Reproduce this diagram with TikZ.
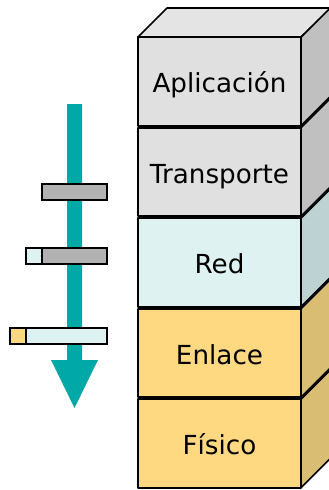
\documentclass[tikz,border=0pt]{standalone}
\usepackage{fontspec}
\setmainfont{DejaVu Sans}
\newcommand\layertext[1]{\scalebox{2.62}{#1}}
\definecolor{grayfront}{HTML}{E0E0E0}
\definecolor{graytop}{HTML}{E4E4E4}
\definecolor{grayside}{HTML}{C0C0C0}
\definecolor{redfront}{HTML}{DFF2F2}
\definecolor{redside}{HTML}{BDD3D3}
\definecolor{linkfront}{HTML}{FFD982}
\definecolor{linkside}{HTML}{D9BD73}
\definecolor{teal}{HTML}{00A8A8}
\definecolor{bargray}{HTML}{B2B2B2}
\begin{document}
\begin{tikzpicture}[x=1pt,y=-1pt,
  front/.style={draw=black,line width=1.6pt,line join=round,minimum width=163pt,minimum height=88.5pt,inner sep=0pt,outer sep=0pt,text height=24pt,text depth=2pt},
  face/.style={draw=black,line width=1.6pt,line join=round},
  barbox/.style={draw=black,line width=1.4pt,inner sep=0pt,outer sep=0pt,minimum height=16pt}]
\useasboundingbox (0,0) rectangle (329,490);
\clip (0,0) rectangle (329,490);
% arrow
\fill[teal] (67,104) -- (82,104) -- (82,360) -- (98,360) -- (74.5,408) -- (51,360) -- (67,360) -- cycle;
% bars
\node[barbox,fill=bargray,minimum width=65pt] (b1) at (74.5,192) {};
\node[barbox,fill=redfront,minimum width=16pt] (b2a) at (34,256) {};
\node[barbox,fill=bargray,minimum width=65pt] (b2b) at (74.5,256) {};
\node[barbox,fill=linkfront,minimum width=16pt] (b3a) at (18,336) {};
\node[barbox,fill=redfront,minimum width=81pt] (b3b) at (66.5,336) {};
% top face
\filldraw[face,fill=graytop] (138,37) -- (167,8) -- (331,8) -- (301,37) -- cycle;
% layers
\node[front,fill=grayfront] (apl) at (219.5,81.5) {\layertext{Aplicación}};
\node[front,fill=grayfront] (tra) at (219.5,172) {\layertext{Transporte}};
\node[front,fill=redfront] (red) at (219.5,262.5) {\layertext{Red}};
\node[front,fill=linkfront] (enl) at (219.5,353) {\layertext{Enlace}};
\node[front,fill=linkfront] (fis) at (219.5,443.5) {\layertext{Físico}};
\filldraw[face,fill=grayside] (apl.north east) -- ++(30,-30) -- ++(0,88.5) -- (apl.south east) -- cycle;
\filldraw[face,fill=grayside] (tra.north east) -- ++(30,-30) -- ++(0,88.5) -- (tra.south east) -- cycle;
\filldraw[face,fill=redside] (red.north east) -- ++(30,-30) -- ++(0,88.5) -- (red.south east) -- cycle;
\filldraw[face,fill=linkside] (enl.north east) -- ++(30,-30) -- ++(0,88.5) -- (enl.south east) -- cycle;
\filldraw[face,fill=linkside] (fis.north east) -- ++(30,-30) -- ++(0,88.5) -- (fis.south east) -- cycle;
\end{tikzpicture}
\end{document}
